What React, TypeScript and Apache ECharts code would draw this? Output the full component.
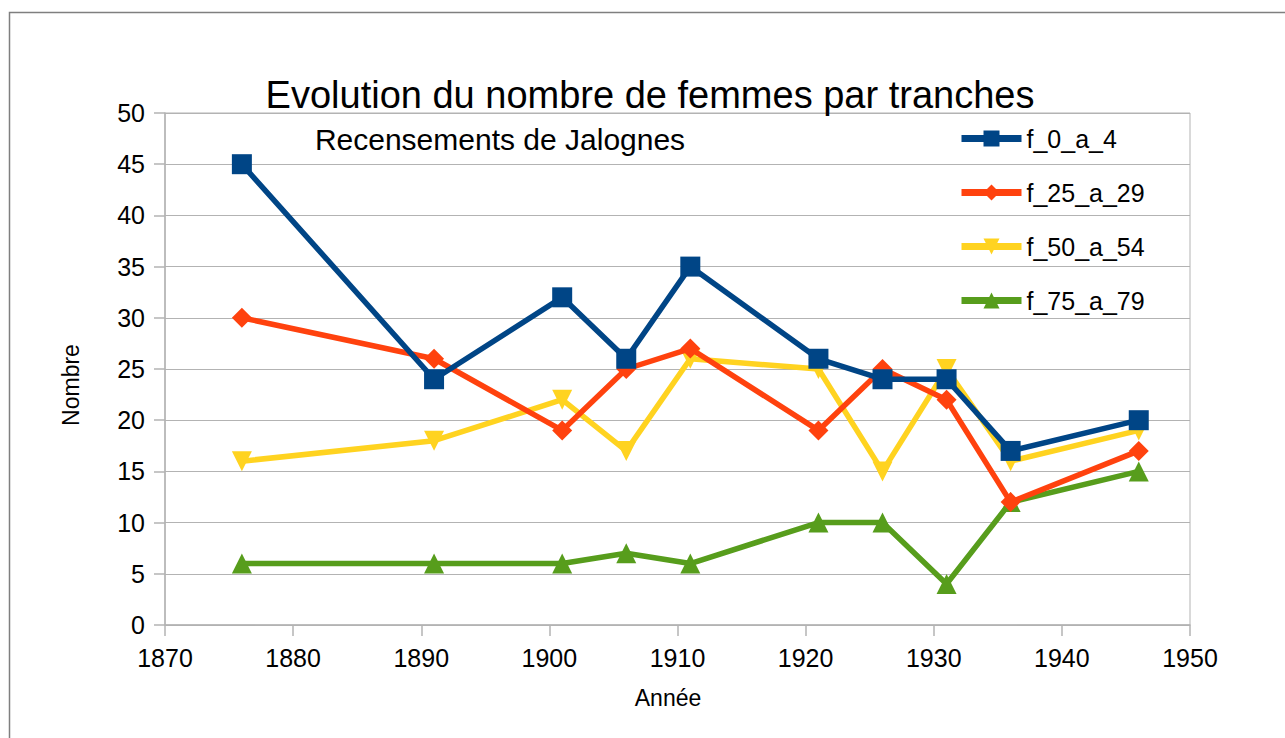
import React, { useEffect, useRef } from "react";
import * as echarts from "echarts";

const years = [1876, 1891, 1901, 1906, 1911, 1921, 1926, 1931, 1936, 1946];
const f_0_a_4 = [45, 24, 32, 26, 35, 26, 24, 24, 17, 20];
const f_25_a_29 = [30, 26, 19, 25, 27, 19, 25, 22, 12, 17];
const f_50_a_54 = [16, 18, 22, 17, 26, 25, 15, 25, 16, 19];
const f_75_a_79 = [6, 6, 6, 7, 6, 10, 10, 4, 12, 15];

const seriesNames = ["f_0_a_4", "f_25_a_29", "f_50_a_54", "f_75_a_79"];
const seriesValues = [f_0_a_4, f_25_a_29, f_50_a_54, f_75_a_79];
const colors = ["#004586", "#ff420e", "#ffd320", "#579d1c"];
const symbols = ["rect", "diamond", "triangle", "triangle"];
const rotations = [0, 0, 180, 0];

const titleText = "Evolution du nombre de femmes par tranches";
const subtitleText = "Recensements de Jalognes";
const xName = "Année";
const yName = "Nombre";

const FONT = "'Liberation Sans', Arial, sans-serif";

export default function App() {
  const ref = useRef<HTMLDivElement>(null);
  useEffect(() => {
    document.body.style.margin = "0";
    if (!ref.current) return;
    const chart = echarts.init(ref.current, null, { renderer: "svg" });
    chart.setOption({
      animation: false,
      backgroundColor: "#ffffff",
      textStyle: { fontFamily: FONT },
      grid: {
        left: 165,
        right: 95,
        top: 113,
        bottom: 113,
        show: true,
        borderColor: "#b3b3b3",
        borderWidth: 1,
      },
      graphic: [
        {
          type: "rect",
          shape: { x: 9.5, y: 12.5, width: 1300, height: 760 },
          style: { fill: "none", stroke: "#7f7f7f", lineWidth: 1.5 },
          silent: true,
        },
        {
          type: "text",
          x: 650,
          y: 95,
          style: {
            text: titleText,
            fontSize: 38,
            fontFamily: FONT,
            fill: "#000",
            textAlign: "center",
            textVerticalAlign: "middle",
          },
          z: 10,
        },
        {
          type: "text",
          x: 500,
          y: 139,
          style: {
            text: subtitleText,
            fontSize: 30,
            fontFamily: FONT,
            fill: "#000",
            textAlign: "center",
            textVerticalAlign: "middle",
          },
          z: 10,
        },
        {
          type: "text",
          x: 668,
          y: 698,
          style: {
            text: xName,
            fontSize: 23,
            fontFamily: FONT,
            fill: "#000",
            textAlign: "center",
            textVerticalAlign: "middle",
          },
        },
        {
          type: "text",
          x: 71,
          y: 385,
          rotation: Math.PI / 2,
          style: {
            text: yName,
            fontSize: 23,
            fontFamily: FONT,
            fill: "#000",
            textAlign: "center",
            textVerticalAlign: "middle",
          },
        },
      ],
      legend: {
        orient: "vertical",
        left: 958,
        top: 126,
        padding: 0,
        itemWidth: 60,
        itemHeight: 20,
        itemGap: 29,
        lineStyle: { width: 7 },
        textStyle: { fontSize: 25, color: "#000", fontFamily: FONT },
        data: seriesNames,
      },
      xAxis: {
        type: "value",
        min: 1870,
        max: 1950,
        interval: 10,
        axisLine: { show: true, lineStyle: { color: "#b3b3b3", width: 1.5 } },
        axisTick: { show: true, length: 11, lineStyle: { color: "#b3b3b3", width: 1.5 } },
        axisLabel: {
          fontSize: 25,
          color: "#000",
          margin: 20,
          fontFamily: FONT,
          formatter: (v: number) => String(v),
        },
        splitLine: { show: false },
      },
      yAxis: {
        type: "value",
        min: 0,
        max: 50,
        interval: 5,
        axisLine: { show: true, lineStyle: { color: "#b3b3b3", width: 1.5 } },
        axisTick: { show: true, length: 11, lineStyle: { color: "#b3b3b3", width: 1.5 } },
        axisLabel: { fontSize: 25, color: "#000", margin: 20, fontFamily: FONT },
        splitLine: { show: true, lineStyle: { color: "#b3b3b3", width: 1 } },
      },
      series: seriesNames.map((name, k) => ({
        name,
        type: "line",
        data: years.map((y, i) => [y, seriesValues[k][i]]),
        symbol: symbols[k],
        symbolRotate: rotations[k],
        symbolSize: 20,
        showAllSymbol: true,
        z: 10 - k,
        lineStyle: { color: colors[k], width: 5.5 },
        itemStyle: { color: colors[k], borderWidth: 0 },
      })),
    });
    return () => chart.dispose();
  }, []);
  return <div ref={ref} style={{ width: 1285, height: 738 }} />;
}
